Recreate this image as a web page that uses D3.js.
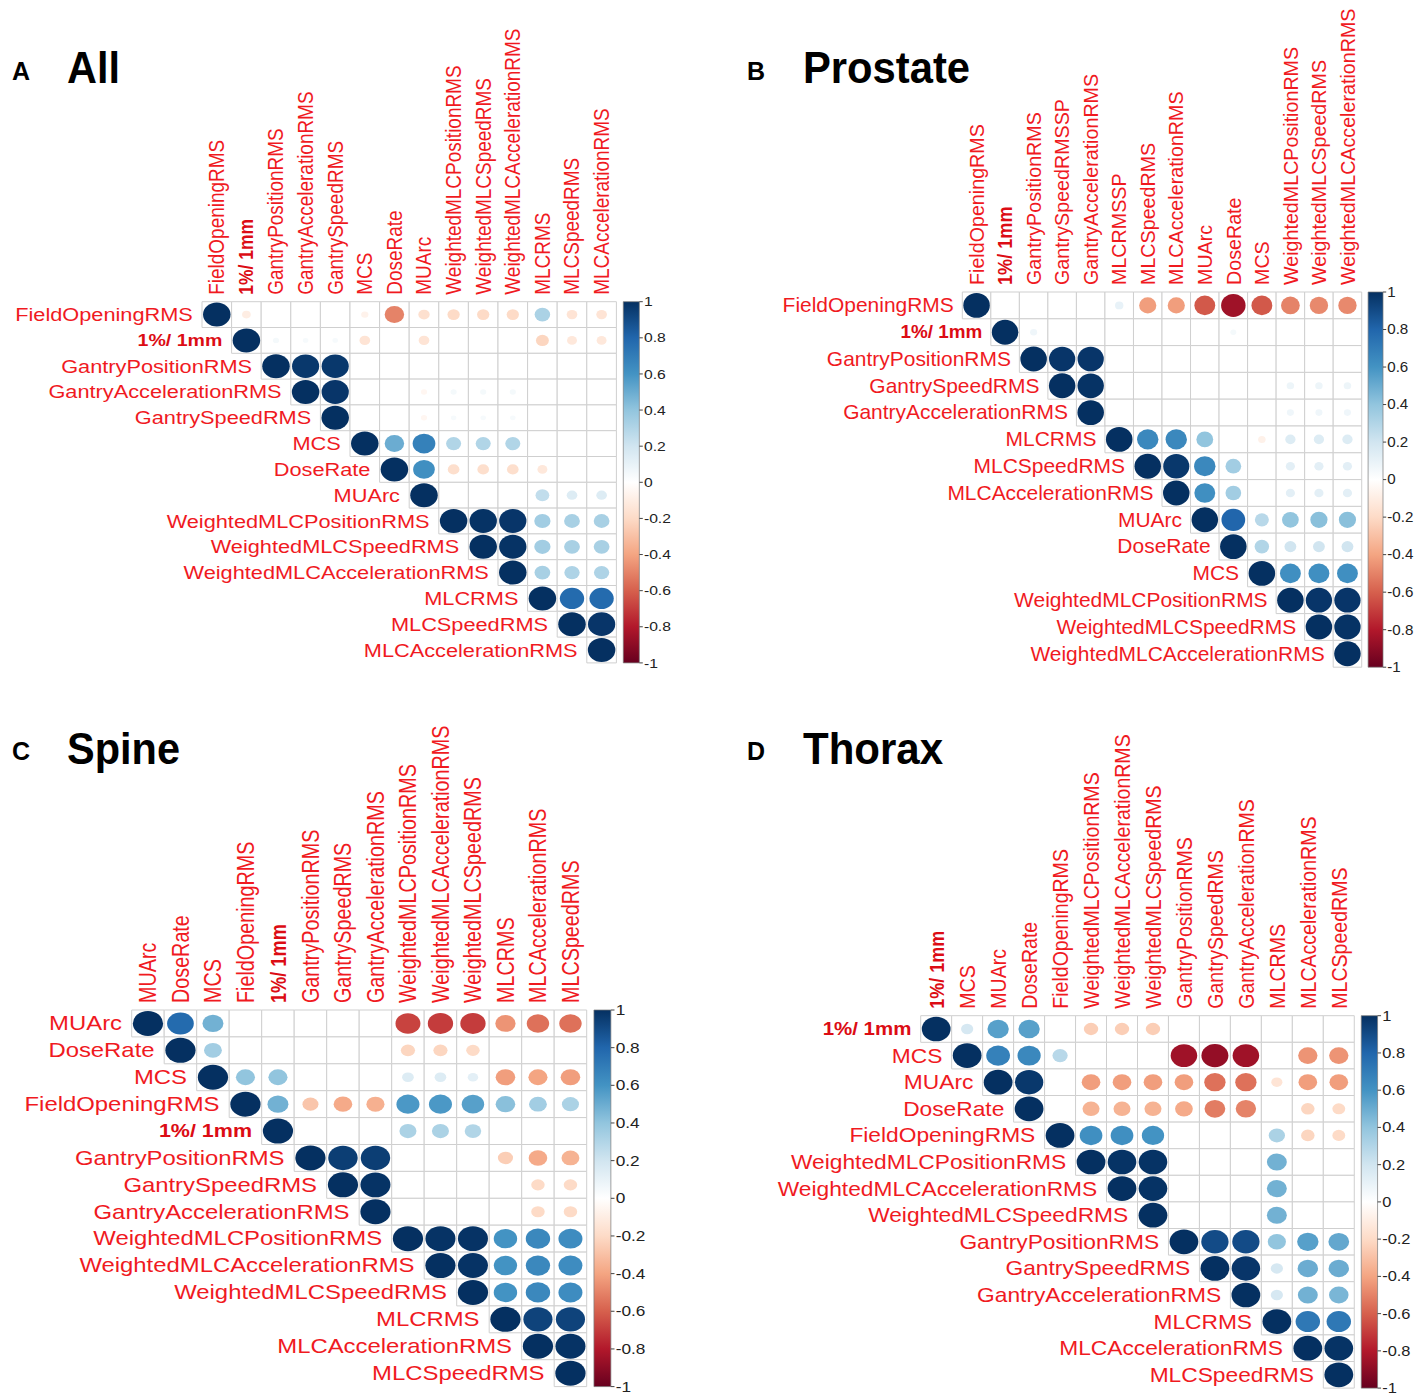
<!DOCTYPE html>
<html>
<head>
<meta charset="utf-8">
<script src="https://cdn.jsdelivr.net/npm/d3@7"></script>
<style>
  html, body { margin: 0; padding: 0; background: #fff; }
  svg { display: block; }
</style>
</head>
<body>
<svg id="chart" width="1417" height="1396"></svg>
<script>
// ---------------- DATA ----------------
const allVars = ["FieldOpeningRMS", "1%/ 1mm", "GantryPositionRMS", "GantryAccelerationRMS", "GantrySpeedRMS",
  "MCS", "DoseRate", "MUArc", "WeightedMLCPositionRMS", "WeightedMLCSpeedRMS",
  "WeightedMLCAccelerationRMS", "MLCRMS", "MLCSpeedRMS", "MLCAccelerationRMS"];
// each row lists values from the diagonal to the last column (null = not significant / blank)
const allCorr = [
  [1, -0.1, null, null, null, -0.07, -0.5, -0.17, -0.2, -0.2, -0.2, 0.32, -0.15, -0.15],
  [1, 0.05, 0.04, 0.04, -0.15, null, -0.15, null, null, null, -0.22, -0.13, -0.13],
  [1, 0.97, 0.97, null, null, null, null, null, null, null, null, null],
  [1, 0.98, null, null, -0.05, 0.05, 0.05, 0.05, null, null, null],
  [1, null, null, -0.05, 0.04, 0.04, 0.04, null, null, null],
  [1, 0.5, 0.68, 0.3, 0.3, 0.3, null, null, null],
  [1, 0.62, -0.18, -0.18, -0.18, -0.13, null, null],
  [1, null, null, null, 0.25, 0.15, 0.15],
  [1, 0.99, 0.98, 0.35, 0.33, 0.33],
  [1, 0.99, 0.35, 0.33, 0.33],
  [1, 0.33, 0.31, 0.31],
  [1, 0.78, 0.78],
  [1, 0.98],
  [1]
];

const prostateRowVars = ["FieldOpeningRMS", "1%/ 1mm", "GantryPositionRMS", "GantrySpeedRMS", "GantryAccelerationRMS",
  "MLCRMS", "MLCSpeedRMS", "MLCAccelerationRMS", "MUArc", "DoseRate", "MCS",
  "WeightedMLCPositionRMS", "WeightedMLCSpeedRMS", "WeightedMLCAccelerationRMS"];
const prostateColVars = ["FieldOpeningRMS", "1%/ 1mm", "GantryPositionRMS", "GantrySpeedRMSSP", "GantryAccelerationRMS",
  "MLCRMSSP", "MLCSpeedRMS", "MLCAccelerationRMS", "MUArc", "DoseRate", "MCS",
  "WeightedMLCPositionRMS", "WeightedMLCSpeedRMS", "WeightedMLCAccelerationRMS"];
const prostateCorr = [
  [1, null, null, null, null, 0.1, -0.42, -0.42, -0.62, -0.85, -0.62, -0.5, -0.48, -0.48],
  [1, 0.07, null, null, null, null, null, null, 0.05, null, null, null, null],
  [1, 0.98, 0.98, null, null, null, null, null, null, null, null, null],
  [1, 0.99, null, null, null, null, null, null, 0.08, 0.08, 0.08],
  [1, null, null, null, null, null, null, 0.07, 0.07, 0.07],
  [1, 0.65, 0.65, 0.4, null, -0.08, 0.15, 0.15, 0.15],
  [1, 0.97, 0.65, 0.35, null, 0.12, 0.12, 0.12],
  [1, 0.62, 0.35, null, 0.12, 0.12, 0.12],
  [1, 0.8, 0.28, 0.4, 0.42, 0.42],
  [1, 0.3, 0.2, 0.2, 0.2],
  [1, 0.62, 0.62, 0.62],
  [1, 0.98, 0.98],
  [1, 0.99],
  [1]
];

const spineVars = ["MUArc", "DoseRate", "MCS", "FieldOpeningRMS", "1%/ 1mm", "GantryPositionRMS",
  "GantrySpeedRMS", "GantryAccelerationRMS", "WeightedMLCPositionRMS", "WeightedMLCAccelerationRMS",
  "WeightedMLCSpeedRMS", "MLCRMS", "MLCAccelerationRMS", "MLCSpeedRMS"];
const spineCorr = [
  [1, 0.78, 0.48, null, null, null, null, null, -0.68, -0.7, -0.7, -0.45, -0.55, -0.55],
  [1, 0.35, null, null, null, null, null, -0.22, -0.22, -0.2, null, null, null],
  [1, 0.4, 0.4, null, null, null, 0.15, 0.15, 0.12, -0.42, -0.4, -0.42],
  [1, 0.48, -0.28, -0.38, -0.36, 0.58, 0.58, 0.55, 0.42, 0.35, 0.32],
  [1, null, null, null, 0.32, 0.32, 0.3, null, null, null],
  [1, 0.95, 0.95, null, null, null, -0.25, -0.38, -0.35],
  [1, 0.99, null, null, null, null, -0.2, -0.2],
  [1, null, null, null, null, -0.2, -0.2],
  [1, 0.99, 0.99, 0.6, 0.65, 0.63],
  [1, 0.99, 0.6, 0.65, 0.63],
  [1, 0.6, 0.65, 0.63],
  [1, 0.93, 0.93],
  [1, 0.99],
  [1]
];

const thoraxVars = ["1%/ 1mm", "MCS", "MUArc", "DoseRate", "FieldOpeningRMS", "WeightedMLCPositionRMS",
  "WeightedMLCAccelerationRMS", "WeightedMLCSpeedRMS", "GantryPositionRMS", "GantrySpeedRMS",
  "GantryAccelerationRMS", "MLCRMS", "MLCAccelerationRMS", "MLCSpeedRMS"];
const thoraxCorr = [
  [1, 0.18, 0.55, 0.55, null, -0.25, -0.25, -0.25, null, null, null, null, null, null],
  [1, 0.68, 0.65, 0.28, null, null, null, -0.85, -0.88, -0.85, null, -0.45, -0.45],
  [1, 0.97, null, -0.42, -0.42, -0.42, -0.42, -0.55, -0.55, -0.15, -0.42, -0.42],
  [1, null, -0.35, -0.35, -0.35, -0.38, -0.52, -0.5, null, -0.22, -0.2],
  [1, 0.62, 0.62, 0.6, null, null, null, 0.32, -0.22, -0.2],
  [1, 0.99, 0.99, null, null, null, 0.48, null, null],
  [1, 0.99, null, null, null, 0.48, null, null],
  [1, null, null, null, 0.48, null, null],
  [1, 0.9, 0.9, 0.4, 0.55, 0.52],
  [1, 0.98, 0.18, 0.5, 0.5],
  [1, 0.18, 0.48, 0.46],
  [1, 0.72, 0.72],
  [1, 0.99],
  [1]
];

const colorbarTicks = [1, 0.8, 0.6, 0.4, 0.2, 0, -0.2, -0.4, -0.6, -0.8, -1];
const colorbarLabels = ["1", "0.8", "0.6", "0.4", "0.2", "0", "-0.2", "-0.4", "-0.6", "-0.8", "-1"];
const rdbu = ["#67001F", "#B2182B", "#D6604D", "#F4A582", "#FDDBC7", "#FFFFFF",
  "#D1E5F0", "#92C5DE", "#4393C3", "#2166AC", "#053061"];

// ---------------- LAYOUT ----------------
const panels = [
  { letter: "A", title: "All", rowVars: allVars, colVars: allVars, corr: allCorr,
    x0: 202, y0: 301.7, cw: 29.6, ch: 25.8, lx: 12, ly: 80, tx: 67, ty: 83, tlen: 53 },
  { letter: "B", title: "Prostate", rowVars: prostateRowVars, colVars: prostateColVars, corr: prostateCorr,
    x0: 962.3, y0: 292, cw: 28.53, ch: 26.8, lx: 747, ly: 80, tx: 803, ty: 83, tlen: 167 },
  { letter: "C", title: "Spine", rowVars: spineVars, colVars: spineVars, corr: spineCorr,
    x0: 131.7, y0: 1010, cw: 32.5, ch: 26.9, lx: 12, ly: 760, tx: 67, ty: 764, tlen: 113 },
  { letter: "D", title: "Thorax", rowVars: thoraxVars, colVars: thoraxVars, corr: thoraxCorr,
    x0: 920.7, y0: 1015.7, cw: 30.97, ch: 26.6, lx: 747, ly: 760, tx: 803, ty: 764, tlen: 140 }
];

const svg = d3.select("#chart");
svg.append("rect").attr("width", 1417).attr("height", 1396).attr("fill", "#fff");

const color = d3.scaleLinear()
  .domain(d3.range(rdbu.length).map(i => -1 + 2 * i / (rdbu.length - 1)))
  .range(rdbu)
  .interpolate(d3.interpolateRgb);

const defs = svg.append("defs");
const grad = defs.append("linearGradient").attr("id", "cbar")
  .attr("x1", 0).attr("y1", 1).attr("x2", 0).attr("y2", 0);
rdbu.forEach((c, i) => grad.append("stop").attr("offset", i / (rdbu.length - 1)).attr("stop-color", c));

const FONT = "'Liberation Sans', Arial, Helvetica, sans-serif";
const LABEL_RED = "#f01a1f";
const BOLD_RED = "#dc0c14";

panels.forEach(p => {
  const n = p.rowVars.length;
  const s = p.ch;                 // local square cell size
  const sx = p.cw / p.ch;         // horizontal stretch of the original figure
  const fs = 0.735 * s;

  const x = d3.scaleBand().domain(d3.range(n)).range([0, n * s]);
  const y = d3.scaleBand().domain(d3.range(n)).range([0, n * s]);
  const rScale = d3.scaleSqrt().domain([0, 1]).range([0, 0.465 * s]);

  const cells = [];
  p.corr.forEach((row, i) => row.forEach((v, k) => cells.push({ i, j: i + k, v })));

  const g = svg.append("g").attr("transform", `translate(${p.x0},${p.y0}) scale(${sx},1)`);

  // grid
  g.append("g").selectAll("rect").data(cells).join("rect")
    .attr("x", d => x(d.j)).attr("y", d => y(d.i))
    .attr("width", x.bandwidth()).attr("height", y.bandwidth())
    .attr("fill", "#fff").attr("stroke", "#cfcfcf").attr("stroke-width", 1)
    .attr("vector-effect", "non-scaling-stroke");

  // circles
  g.append("g").selectAll("circle").data(cells.filter(d => d.v !== null)).join("circle")
    .attr("cx", d => x(d.j) + x.bandwidth() / 2)
    .attr("cy", d => y(d.i) + y.bandwidth() / 2)
    .attr("r", d => rScale(Math.abs(d.v)))
    .attr("fill", d => color(d.v));

  const isBold = t => t === "1%/ 1mm";

  // row labels
  g.append("g").selectAll("text").data(p.rowVars).join("text")
    .attr("x", (d, i) => x(i) - 8)
    .attr("y", (d, i) => y(i) + y.bandwidth() / 2)
    .attr("text-anchor", "end").attr("dominant-baseline", "central")
    .attr("font-family", FONT).attr("font-size", d => isBold(d) ? fs * 0.9 : fs)
    .attr("font-weight", d => isBold(d) ? "bold" : "normal")
    .attr("fill", d => isBold(d) ? BOLD_RED : LABEL_RED)
    .text(d => d);

  // column labels
  g.append("g").selectAll("text").data(p.colVars).join("text")
    .attr("transform", (d, j) => `translate(${x(j) + x.bandwidth() / 2},${-7}) rotate(-90)`)
    .attr("text-anchor", "start").attr("dominant-baseline", "central")
    .attr("font-family", FONT).attr("font-size", d => isBold(d) ? fs * 0.92 : fs)
    .attr("font-weight", d => isBold(d) ? "bold" : "normal")
    .attr("fill", d => isBold(d) ? BOLD_RED : LABEL_RED)
    .text(d => d);

  // colour bar
  const cbx = n * s + 6, cbw = 14;
  const cy = d3.scaleLinear().domain([-1, 1]).range([n * s, 0]);
  const cb = g.append("g");
  cb.append("rect").attr("x", cbx).attr("y", 0).attr("width", cbw).attr("height", n * s)
    .attr("fill", "url(#cbar)").attr("stroke", "#7a7a7a").attr("stroke-width", 0.7)
    .attr("vector-effect", "non-scaling-stroke");
  cb.selectAll("line").data(colorbarTicks).join("line")
    .attr("x1", cbx + cbw).attr("x2", cbx + cbw + 3)
    .attr("y1", d => cy(d)).attr("y2", d => cy(d))
    .attr("stroke", "#444").attr("stroke-width", 1).attr("vector-effect", "non-scaling-stroke");
  cb.selectAll("text").data(colorbarTicks).join("text")
    .attr("x", cbx + cbw + 4).attr("y", d => cy(d))
    .attr("dominant-baseline", "central")
    .attr("font-family", FONT).attr("font-size", 0.53 * s).attr("fill", "#222")
    .text((d, i) => colorbarLabels[i]);

  // panel letter and title
  svg.append("text").attr("x", p.lx).attr("y", p.ly)
    .attr("font-family", FONT).attr("font-weight", "bold").attr("font-size", 25).attr("fill", "#000")
    .text(p.letter);
  svg.append("text").attr("x", p.tx).attr("y", p.ty)
    .attr("font-family", FONT).attr("font-weight", "bold").attr("font-size", 45).attr("fill", "#000")
    .attr("textLength", p.tlen).attr("lengthAdjust", "spacingAndGlyphs")
    .text(p.title);
});
</script>
</body>
</html>
